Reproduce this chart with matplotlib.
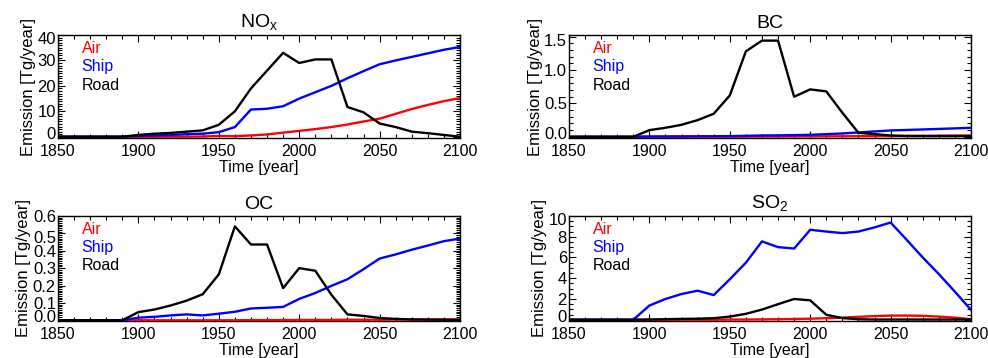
import numpy as np
import matplotlib
matplotlib.use("Agg")
import matplotlib.pyplot as plt
import matplotlib.transforms as mtransforms
from matplotlib.ticker import MultipleLocator

plt.rcParams['font.family'] = ['Liberation Sans', 'DejaVu Sans']
plt.rcParams['mathtext.fontset'] = 'custom'
plt.rcParams['mathtext.rm'] = 'Liberation Sans'

# decades 1850..2100
years = list(range(1850, 2101, 10))

# NOx [Tg/year]
nox_air = [0, 0, 0, 0, 0, 0, 0, 0, 0, 0.1, 0.3, 0.2, 0.5, 0.9, 1.6, 2.3,
           3.0, 3.8, 4.8, 6.0, 7.1, 9.0, 10.9, 12.5, 14.0, 15.2]
nox_ship = [0, 0, 0, 0, 0, 0.3, 0.5, 0.7, 1.0, 1.2, 1.8, 3.8, 10.7, 11.0, 12.0, 15.0,
            17.5, 20.0, 23.0, 25.8, 28.5, 30.0, 31.4, 32.8, 34.2, 35.3]
nox_road = [0, 0, 0, 0, 0, 0.7, 1.2, 1.5, 2.0, 2.5, 4.7, 10.0, 19.0, 26.0, 33.0, 29.0,
            30.4, 30.4, 11.7, 9.6, 5.2, 3.8, 2.0, 1.4, 0.7, 0.0]

# BC
bc_air = [0, 0, 0, 0, 0, 0, 0, 0, 0, 0, 0.001, 0.002, 0.003, 0.004, 0.005, 0.006,
          0.007, 0.008, 0.009, 0.01, 0.011, 0.013, 0.015, 0.017, 0.019, 0.02]
bc_ship = [0, 0, 0, 0, 0, 0.005, 0.006, 0.007, 0.008, 0.009, 0.01, 0.015, 0.02, 0.022,
           0.025, 0.03, 0.04, 0.05, 0.065, 0.08, 0.095, 0.103, 0.11, 0.118, 0.126, 0.135]
bc_road = [0, 0, 0, 0, 0, 0.1, 0.135, 0.18, 0.25, 0.345, 0.62, 1.28, 1.44, 1.44, 0.6, 0.71,
           0.68, 0.36, 0.06, 0.04, 0.02, 0.012, 0.01, 0.01, 0.01, 0.01]

# OC
oc_air = [0, 0, 0, 0, 0, 0, 0, 0, 0, 0, 0, 0, 0.001, 0.001, 0.001, 0.002,
          0.002, 0.002, 0.003, 0.003, 0.003, 0.004, 0.004, 0.004, 0.005, 0.005]
oc_ship = [0, 0, 0, 0, 0, 0.015, 0.02, 0.028, 0.034, 0.028, 0.038, 0.049, 0.068, 0.072,
           0.077, 0.123, 0.157, 0.198, 0.236, 0.294, 0.355, 0.379, 0.406, 0.43, 0.455, 0.47]
oc_road = [0, 0, 0, 0, 0, 0.047, 0.062, 0.085, 0.113, 0.15, 0.264, 0.54, 0.436, 0.436,
           0.185, 0.30, 0.285, 0.147, 0.034, 0.025, 0.013, 0.008, 0.005, 0.004, 0.003, 0.002]

# SO2
so2_air = [0, 0, 0, 0, 0, 0, 0, 0, 0, 0, 0.01, 0.02, 0.03, 0.05, 0.07, 0.1,
           0.15, 0.2, 0.28, 0.35, 0.4, 0.4, 0.38, 0.3, 0.2, 0.05]
so2_ship = [0, 0, 0, 0, 0, 1.37, 2.0, 2.48, 2.8, 2.38, 3.9, 5.5, 7.55, 7.0, 6.86, 8.67,
            8.5, 8.35, 8.5, 8.9, 9.37, 7.7, 6.0, 4.4, 2.7, 0.95]
so2_road = [0, 0, 0, 0, 0, 0.02, 0.05, 0.08, 0.1, 0.15, 0.3, 0.57, 0.98, 1.5, 2.0, 1.87,
            0.48, 0.16, 0.05, 0.02, 0.02, 0.02, 0.02, 0.02, 0.02, 0.02]

panels = [
    # title, air, ship, road, ylim, major, minor, position
    (r'NO$_\mathregular{x}$', nox_air, nox_ship, nox_road, (-0.5, 40), 10, 1,
     [0.0587, 0.6145, 0.4069, 0.2877]),
    ('BC', bc_air, bc_ship, bc_road, (-0.018, 1.524), 0.5, 0.1,
     [0.5759, 0.6145, 0.4069, 0.2877]),
    ('OC', oc_air, oc_ship, oc_road, (-0.004, 0.6), 0.1, 0.01,
     [0.0587, 0.1034, 0.4069, 0.2933]),
    (r'SO$_\mathregular{2}$', so2_air, so2_ship, so2_road, (-0.12, 10), 2, 0.5,
     [0.5759, 0.1034, 0.4069, 0.2933]),
]

fig = plt.figure(figsize=(9.88, 3.58), dpi=100, facecolor='white')

for title, air, ship, road, ylim, major, minor, pos in panels:
    ax = fig.add_axes(pos)
    ax.plot(years, air, color='#ff0000', lw=1.7, zorder=3)
    ax.plot(years, ship, color='#0000ff', lw=1.7, zorder=4)
    ax.plot(years, road, color='black', lw=1.7, zorder=5)

    ax.set_xlim(1850, 2100)
    ax.set_ylim(*ylim)
    ax.xaxis.set_major_locator(MultipleLocator(50))
    ax.xaxis.set_minor_locator(MultipleLocator(10))
    ax.yaxis.set_major_locator(MultipleLocator(major))
    ax.yaxis.set_minor_locator(MultipleLocator(minor))
    if major < 1:
        ax.yaxis.set_major_formatter(plt.FormatStrFormatter('%.1f'))
    ax.tick_params(which='both', direction='in', top=True, right=True, width=0.8)
    ax.tick_params(which='major', length=5)
    ax.tick_params(which='minor', length=2.6)
    ax.tick_params(axis='y', pad=1.5, labelsize=12)
    ax.tick_params(axis='x', pad=4.5, labelsize=11.5)
    for sp in ax.spines.values():
        sp.set_linewidth(1.0)

    ax.set_xlabel('Time [year]', fontsize=11.5, labelpad=0.5)
    ax.set_ylabel('Emission [Tg/year]', fontsize=12, labelpad=1)
    ax.annotate(title, xy=(0.5, 1), xycoords='axes fraction', xytext=(0, 5),
                textcoords='offset points', ha='center', va='baseline', fontsize=14)

    for i, (name, col) in enumerate([('Air', '#ff0000'), ('Ship', '#0000ff'), ('Road', 'black')]):
        ax.annotate(name, xy=(0, 1), xycoords='axes fraction',
                    xytext=(17, -10 - 13 * i), textcoords='offset points',
                    ha='left', va='center', fontsize=11.5, color=col)

    # pull the end tick labels a little inside the box like the original
    fig.canvas.draw()
    labels = ax.get_yticklabels()
    vis = [lb for lb in labels if ylim[0] <= lb.get_position()[1] <= ylim[1]]
    if vis:
        up = mtransforms.ScaledTranslation(0, 3 / 72, fig.dpi_scale_trans)
        down = mtransforms.ScaledTranslation(0, -2.5 / 72, fig.dpi_scale_trans)
        vis[0].set_transform(vis[0].get_transform() + up)
        vis[-1].set_transform(vis[-1].get_transform() + down)

fig.savefig('out.png', dpi=100)
